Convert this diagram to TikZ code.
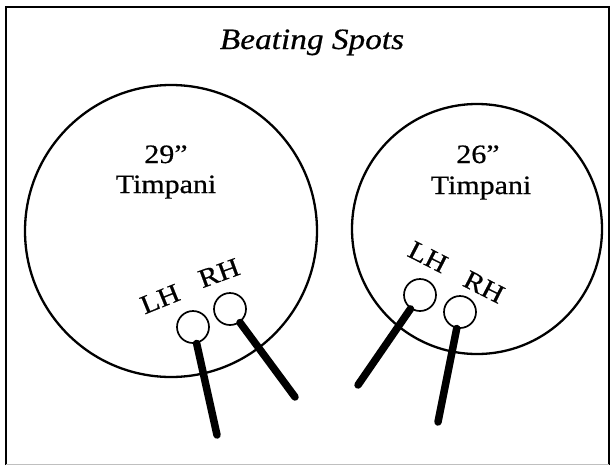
\documentclass[tikz,border=0pt]{standalone}
\usepackage{fontspec}
\setmainfont{Liberation Serif}
\newfontfamily\gar[FakeStretch=1.13,FakeBold=0.6]{Liberation Serif}
\begin{document}
\begin{tikzpicture}[x=1pt,y=-1pt,
  drum/.style={draw, line width=2.3pt},
  mallet/.style={circle, draw, line width=1.7pt, minimum size=32pt, inner sep=0pt},
  stick/.style={line width=7.5pt, line cap=round},
  lbl/.style={font=\gar\fontsize{26.5}{31}\selectfont, inner sep=0pt},
  ttl/.style={font=\gar\itshape\fontsize{29.5}{34}\selectfont, inner sep=0pt}]
\useasboundingbox (0,0) rectangle (612,466);
\draw[line width=1.5pt] (6,465) -- (6,7) -- (609,7) -- (609,465);
\draw[line width=0.6pt, black!25] (6,464) -- (609,464);
\node[ttl, anchor=base] (title) at (312,49) {Beating Spots};
% drums
\draw[drum] (171,231) circle[radius=146];
\draw[drum] (477,229) circle[radius=125];
\node[lbl, anchor=base] (s29) at (166,163) {29”};
\node[lbl, anchor=base] (t29) at (166,193) {Timpani};
\node[lbl, anchor=base] (s26) at (478,163) {26”};
\node[lbl, anchor=base] (t26) at (481,194) {Timpani};
% left drum mallets
\node[lbl, rotate=22] (lhA) at (160,299) {LH};
\node[lbl, rotate=20] (rhA) at (219,273) {RH};
\node[mallet] (mlA) at (193,327) {};
\node[mallet] (mrA) at (230,309) {};
\coordinate (elA) at (217,435);
\coordinate (erA) at (295,397);
\draw[stick] (mlA) -- (elA);
\draw[stick] (mrA) -- (erA);
% right drum mallets
\node[lbl, rotate=-27] (lhB) at (428,257) {LH};
\node[lbl, rotate=-27] (rhB) at (484,287) {RH};
\node[mallet] (mlB) at (420,295) {};
\node[mallet] (mrB) at (460,312) {};
\coordinate (elB) at (358,385);
\coordinate (erB) at (438,422);
\draw[stick] (mlB) -- (elB);
\draw[stick] (mrB) -- (erB);
\end{tikzpicture}
\end{document}
